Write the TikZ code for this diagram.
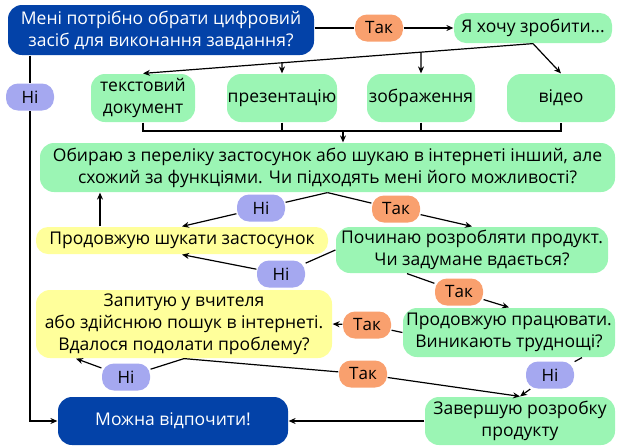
\documentclass[tikz,border=0pt]{standalone}
\usepackage{fontspec}
\setmainfont{Open Sans}
\usetikzlibrary{arrows.meta,calc}
\definecolor{dblue}{RGB}{3,66,168}
\definecolor{lgreen}{RGB}{155,245,180}
\definecolor{lyellow}{RGB}{255,255,155}
\definecolor{lorange}{RGB}{249,160,110}
\definecolor{lviolet}{RGB}{165,168,240}
\begin{document}
\begin{tikzpicture}[x=1pt,y=-1pt,
  >={Stealth[length=7pt,width=6pt]},
  line width=1.2pt,
  box/.style={rounded corners=14pt, align=center, inner sep=0pt, font=\fontsize{17.5}{22}\selectfont},
  bluebox/.style={box, fill=dblue, text=white},
  greenbox/.style={box, fill=lgreen},
  yellowbox/.style={box, fill=lyellow},
  pill/.style={rounded corners=12pt, inner sep=0pt, minimum width=48pt, minimum height=27pt, font=\fontsize{17}{20}\selectfont},
  yes/.style={pill, fill=lorange},
  no/.style={pill, fill=lviolet},
  conn/.style={draw=black, line width=1.2pt}
]
\useasboundingbox (0,0) rectangle (619,445);

% main nodes
\node[bluebox, minimum width=306pt, minimum height=50pt] (start) at (161,30) {Мені потрібно обрати цифровий\\засіб для виконання завдання?};
\node[yes] (tak1) at (379,28) {Так};
\node[greenbox, rounded corners=12pt, minimum width=158pt, minimum height=30pt] (want) at (533,28) {Я хочу зробити...};

\node[greenbox, minimum width=104pt, minimum height=48pt] (doc) at (143,98) {текстовий\\документ};
\node[greenbox, minimum width=110pt, minimum height=48pt] (pres) at (282,98) {презентацію};
\node[greenbox, minimum width=108pt, minimum height=48pt] (img) at (421,98) {зображення};
\node[greenbox, minimum width=108pt, minimum height=48pt] (vid) at (561,98) {відео};

\node[no] (no1) at (30,97) {Ні};

\node[greenbox, minimum width=575pt, minimum height=49pt] (choose) at (327.5,167.5) {Обираю з переліку застосунок або шукаю в інтернеті інший, але\\схожий за функціями. Чи підходять мені його можливості?};

\node[no] (no2) at (261,208) {Ні};
\node[yes] (yes2) at (396,209) {Так};

\node[yellowbox, rounded corners=12pt, minimum width=292pt, minimum height=27pt] (search) at (182,240.5) {Продовжую шукати застосунок};
\node[greenbox, minimum width=272pt, minimum height=46pt] (develop) at (472,250) {Починаю розробляти продукт.\\Чи задумане вдається?};

\node[no] (no3) at (281,274) {Ні};
\node[yes] (yes3) at (459,292) {Так};

\node[yellowbox, minimum width=296pt, minimum height=68pt] (ask) at (184,324) {Запитую у вчителя\\або здійснюю пошук в інтернеті.\\Вдалося подолати проблему?};
\node[greenbox, minimum width=212pt, minimum height=49pt] (cont) at (509,332.5) {Продовжую працювати.\\Виникають труднощі?};
\node[yes] (yes4) at (367,325) {Так};

\node[no] (no4) at (126,377) {Ні};
\node[yes] (yes5) at (363,374) {Так};
\node[no] (no5) at (550,375) {Ні};

\node[bluebox, minimum width=230pt, minimum height=48pt] (rest) at (173,421) {Можна відпочити!};
\node[greenbox, minimum width=190pt, minimum height=48pt] (finish) at (520,421) {Завершую розробку\\продукту};

% helper coordinates
\coordinate (bus) at (0,131);
\coordinate (busdown) at (343,131);
\coordinate (upx) at (100,0);
\coordinate (devb) at (407,0);
\coordinate (contb) at (582,0);
\coordinate (askl) at (76,0);

% connectors
\draw[conn] (start.east |- tak1) -- (tak1.west);
\draw[conn,->] (tak1.east) -- (want.west);

\draw[conn,->] (want.south) -- (doc.north);
\draw[conn,->] (intersection of want.south--doc.north and pres.north--pres.center) -- (pres.north);
\draw[conn,->] (intersection of want.south--doc.north and img.north--img.center) -- (img.north);
\draw[conn,->] (want.south) -- (vid.north);

\draw[conn] (doc.south) -- (doc.south |- bus) -- (vid.south |- bus) -- (vid.south);
\draw[conn] (pres.south) -- (pres.south |- bus);
\draw[conn] (img.south) -- (img.south |- bus);
\draw[conn,->] (busdown) -- (busdown |- choose.north);

\draw[conn] (start.south -| no1) -- (no1);
\draw[conn,->] (no1) |- (rest.west);

\draw[conn] (choose.south) -- (no2);
\draw[conn,->] (no2) -- (search.north);
\draw[conn] (choose.south) -- (yes2);
\draw[conn,->] (yes2) -- (develop.north);
\draw[conn,->] (search.north -| upx) -- (choose.south -| upx);

\draw[conn] (develop.west) -- (no3);
\draw[conn,->] (no3) -- (search.south);
\draw[conn] (develop.south -| devb) -- (yes3);
\draw[conn,->] (yes3) -- (cont.north);

\draw[conn] (cont.west) -- (yes4);
\draw[conn,->] (yes4) -- (ask.east);

\draw[conn] (ask.south) -- (no4);
\draw[conn,->] (no4) -- (ask.south -| askl);
\draw[conn] (ask.south) -- (yes5);
\draw[conn,->] (yes5) -- (finish.north);

\draw[conn] (cont.south -| contb) -- (no5);
\draw[conn,->] (no5) -- (finish.north);

\draw[conn,->] (finish.west) -- (rest.east);
\end{tikzpicture}
\end{document}
